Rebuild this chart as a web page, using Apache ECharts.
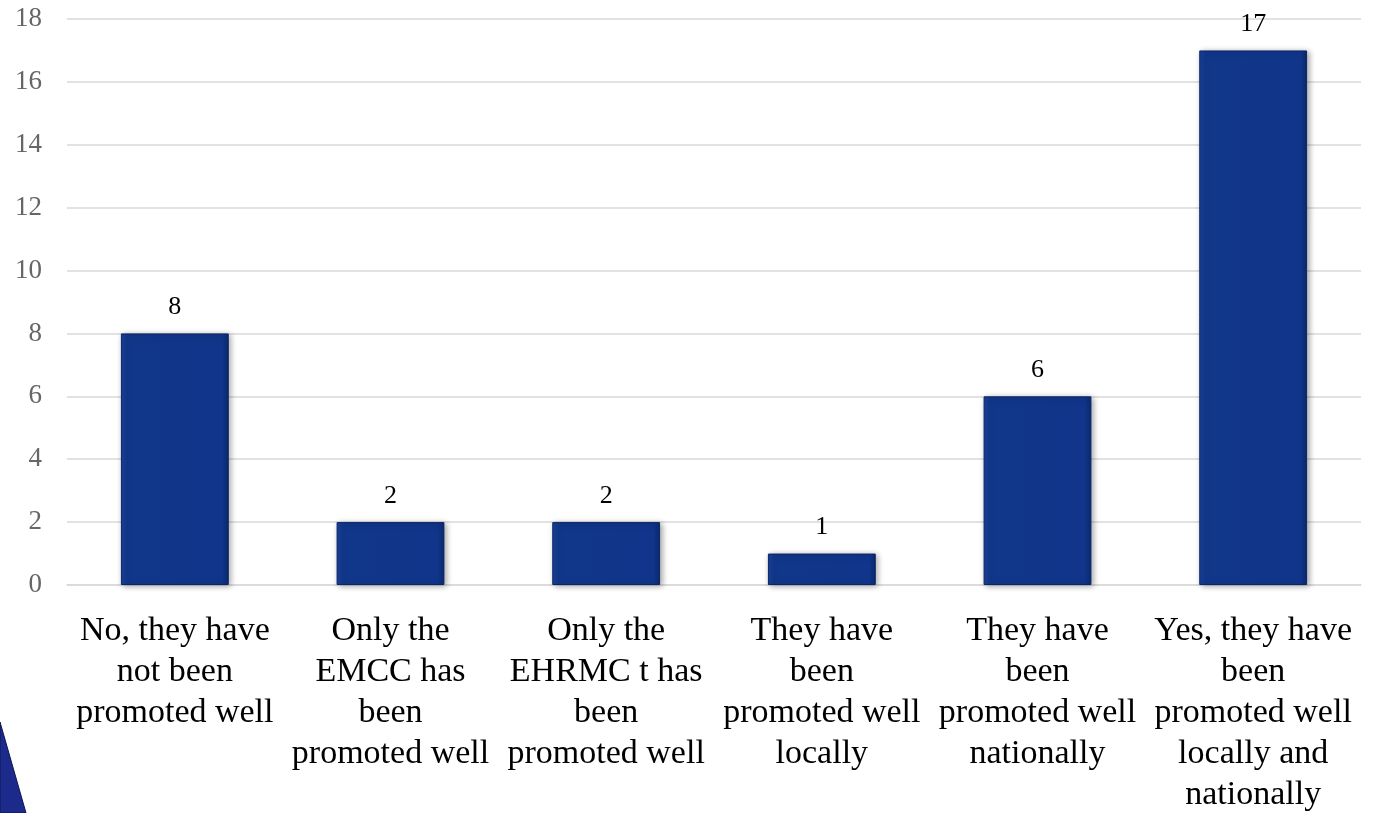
<!DOCTYPE html>
<html>
<head>
<meta charset="utf-8">
<script src="https://cdn.jsdelivr.net/npm/echarts@6/dist/echarts.min.js"></script>
<style>
  html, body { margin: 0; padding: 0; background: #fff; }
  #main { width: 1373px; height: 813px; }
</style>
</head>
<body>
<div id="main"></div>
<script>
// categories as they are broken in the slide
var categories = [
    'No, they have\nnot been\npromoted well',
    'Only the\nEMCC has\nbeen\npromoted well',
    'Only the\nEHRMC t has\nbeen\npromoted well',
    'They have\nbeen\npromoted well\nlocally',
    'They have\nbeen\npromoted well\nnationally',
    'Yes, they have\nbeen\npromoted well\nlocally and\nnationally'
];
var counts = [8, 2, 2, 1, 6, 17];
var yTicks = [0, 2, 4, 6, 8, 10, 12, 14, 16, 18];

var serif = '"Liberation Serif", "DejaVu Serif", serif';

var myChart = echarts.init(document.getElementById('main'));
myChart.setOption({
    animation: false,
    grid: {
        left: 67, right: 12, top: 19, bottom: 228,
        containLabel: false,
        outerBoundsMode: 'none'
    },
    xAxis: {
        type: 'category',
        data: categories,
        axisTick: { show: false },
        axisLine: { lineStyle: { color: '#d9d9d9', width: 1.5 } },
        axisLabel: {
            interval: 0,
            margin: 26,
            color: '#000',
            fontFamily: serif,
            fontSize: 34,
            lineHeight: 41
        }
    },
    yAxis: {
        type: 'value',
        min: yTicks[0],
        max: yTicks[yTicks.length - 1],
        interval: 2,
        axisLine: { show: false },
        axisTick: { show: false },
        axisLabel: {
            margin: 25,
            color: '#666666',
            fontFamily: serif,
            fontSize: 27
        },
        splitLine: { lineStyle: { color: '#d9d9d9', width: 1.5 } }
    },
    series: [{
        type: 'bar',
        data: counts,
        barWidth: '50%',
        label: {
            show: true,
            position: 'top',
            distance: 13,
            color: '#000',
            fontFamily: serif,
            fontSize: 26
        },
        itemStyle: {
            color: {
                type: 'linear', x: 0, y: 0, x2: 1, y2: 0,
                colorStops: [
                    { offset: 0, color: '#1a419b' },
                    { offset: 0.06, color: '#11378a' },
                    { offset: 0.94, color: '#10358a' },
                    { offset: 1, color: '#0b2a6e' }
                ]
            },
            borderColor: '#0a2566',
            borderWidth: 1,
            shadowBlur: 6,
            shadowOffsetX: 2,
            shadowOffsetY: 1,
            shadowColor: 'rgba(0, 0, 0, 0.35)'
        }
    }],
    graphic: [{
        // slide decoration in the lower left corner
        type: 'polygon',
        shape: { points: [[0, 722], [26, 813], [0, 813]] },
        style: { fill: '#1c2a8c', stroke: '#0d1550', lineWidth: 1 },
        z: 10
    }]
});
</script>
</body>
</html>
